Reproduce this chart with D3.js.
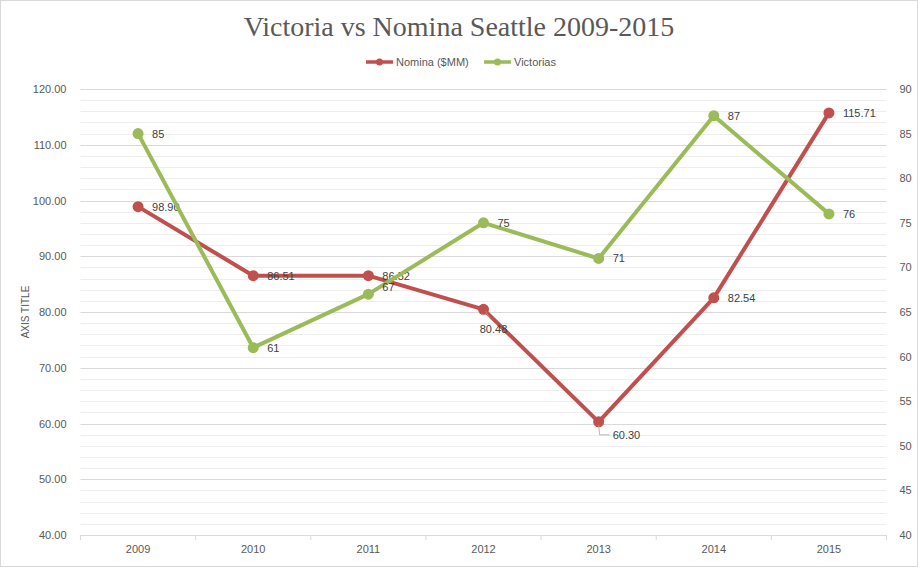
<!DOCTYPE html>
<html>
<head>
<meta charset="utf-8">
<script src="https://cdn.jsdelivr.net/npm/d3@7"></script>
<style>
  body { margin: 0; background: #fff; }
  svg { display: block; }
  text { font-family: "Liberation Sans", Arial, sans-serif; }
</style>
</head>
<body>
<svg id="chart" width="918" height="567"></svg>
<script>
var years = ["2009", "2010", "2011", "2012", "2013", "2014", "2015"];
var nomina = [98.90, 86.51, 86.52, 80.48, 60.30, 82.54, 115.71];
var victorias = [85, 61, 67, 75, 71, 87, 76];
var leftTicks = [40, 50, 60, 70, 80, 90, 100, 110, 120];
var rightTicks = [40, 45, 50, 55, 60, 65, 70, 75, 80, 85, 90];
// where each data label sits relative to its point
var nominaLabelPos = ["right", "right", "right", "below", "leader", "right", "right"];
var victoriasLabelPos = ["right", "right", "upright", "right", "right", "right", "right"];

var red = "#C0504D";
var green = "#9BBB59";
var textColor = "#595959";

var svg = d3.select("#chart");
var margin = { left: 80.5, right: 31.5, top: 89, bottom: 32 };
var width = 918, height = 567;

// outer frame
svg.append("rect")
  .attr("x", 0.5).attr("y", 0.5)
  .attr("width", width - 1).attr("height", height - 1)
  .attr("fill", "#fff").attr("stroke", "#d9d9d9");

var x = d3.scaleBand().domain(years).range([margin.left, width - margin.right]);
var yLeft = d3.scaleLinear().domain([40, 120]).range([height - margin.bottom, margin.top]);
var yRight = d3.scaleLinear().domain([40, 90]).range([height - margin.bottom, margin.top]);

// minor grid every 2 units, major every 10
var minor = d3.range(42, 120, 2).filter(function(v){ return v % 10 !== 0; });
svg.append("g").selectAll("line").data(minor).enter().append("line")
  .attr("x1", margin.left).attr("x2", width - margin.right)
  .attr("y1", function(d){ return Math.round(yLeft(d)) + 0.5; })
  .attr("y2", function(d){ return Math.round(yLeft(d)) + 0.5; })
  .attr("stroke", "#ededed");
svg.append("g").selectAll("line").data(leftTicks.slice(1)).enter().append("line")
  .attr("x1", margin.left).attr("x2", width - margin.right)
  .attr("y1", function(d){ return Math.round(yLeft(d)) + 0.5; })
  .attr("y2", function(d){ return Math.round(yLeft(d)) + 0.5; })
  .attr("stroke", "#d9d9d9");

// x axis
var xAxis = svg.append("g")
  .attr("transform", "translate(0," + (height - margin.bottom) + ")")
  .call(d3.axisBottom(x).tickSize(0).tickPadding(10));
xAxis.select(".domain").attr("stroke", "#d9d9d9");
xAxis.selectAll("text").attr("fill", textColor).style("font-size", "11px");
var bounds = years.map(function(d){ return x(d); }).concat([x.range()[1]]);
xAxis.selectAll("line.sep").data(bounds).enter().append("line")
  .attr("class", "sep")
  .attr("x1", function(d){ return d; }).attr("x2", function(d){ return d; })
  .attr("y1", 0).attr("y2", 5)
  .attr("stroke", "#d9d9d9");

// left axis
var leftAxis = svg.append("g")
  .attr("transform", "translate(" + (margin.left - 11) + ",0)")
  .call(d3.axisLeft(yLeft).tickValues(leftTicks).tickSize(0).tickFormat(d3.format(".2f")));
leftAxis.select(".domain").remove();
leftAxis.selectAll("text").attr("fill", textColor).style("font-size", "11px");

// right axis
var rightAxis = svg.append("g")
  .attr("transform", "translate(" + (width - margin.right + 10) + ",0)")
  .call(d3.axisRight(yRight).tickValues(rightTicks).tickSize(0));
rightAxis.select(".domain").remove();
rightAxis.selectAll("text").attr("fill", textColor).style("font-size", "11px");

// axis title
svg.append("text")
  .attr("transform", "translate(29," + ((margin.top + height - margin.bottom) / 2) + ") rotate(-90)")
  .attr("text-anchor", "middle")
  .attr("fill", textColor)
  .style("font-size", "10px")
  .text("AXIS TITLE");

// title
svg.append("text")
  .attr("x", 459).attr("y", 36)
  .attr("text-anchor", "middle")
  .attr("fill", textColor)
  .style("font-family", "'Liberation Serif', 'DejaVu Serif', serif")
  .style("font-size", "28px")
  .text("Victoria vs Nomina Seattle 2009-2015");

// legend
var legend = [
  { name: "Nomina ($MM)", color: red, x: 366 },
  { name: "Victorias", color: green, x: 484 }
];
var lg = svg.append("g").selectAll("g").data(legend).enter().append("g")
  .attr("transform", function(d){ return "translate(" + d.x + ",62)"; });
lg.append("line").attr("x1", 0).attr("x2", 27).attr("y1", 0).attr("y2", 0)
  .attr("stroke", function(d){ return d.color; }).attr("stroke-width", 3.5);
lg.append("circle").attr("cx", 13.5).attr("cy", 0).attr("r", 3.5)
  .attr("fill", function(d){ return d.color; });
lg.append("text").attr("x", 30).attr("y", 4)
  .attr("fill", textColor).style("font-size", "11px")
  .text(function(d){ return d.name; });

function cx(i){ return x(years[i]) + x.bandwidth() / 2; }

function drawSeries(values, scale, color, fmt, positions) {
  var line = d3.line()
    .x(function(d, i){ return cx(i); })
    .y(function(d){ return scale(d); });
  svg.append("path").datum(values)
    .attr("d", line)
    .attr("fill", "none")
    .attr("stroke", color)
    .attr("stroke-width", 4)
    .attr("stroke-linejoin", "round");
  svg.append("g").selectAll("circle").data(values).enter().append("circle")
    .attr("cx", function(d, i){ return cx(i); })
    .attr("cy", function(d){ return scale(d); })
    .attr("r", 5.5)
    .attr("fill", color);
  var g = svg.append("g");
  values.forEach(function(v, i){
    var px = cx(i), py = scale(v);
    var pos = positions[i];
    var t = g.append("text").attr("fill", "#404040").style("font-size", "11px").text(fmt(v));
    if (pos === "right") {
      t.attr("x", px + 14).attr("y", py + 4);
    } else if (pos === "below") {
      t.attr("x", px + 10).attr("y", py + 24).attr("text-anchor", "middle");
      g.append("line").attr("x1", px + 2).attr("y1", py + 2).attr("x2", px + 7).attr("y2", py + 10)
        .attr("stroke", "#a6a6a6").attr("stroke-width", 0.8);
    } else if (pos === "leader") {
      t.attr("x", px + 14).attr("y", py + 17);
      g.append("polyline")
        .attr("points", [[px, py + 3], [px + 1, py + 13], [px + 11, py + 13]].join(" "))
        .attr("fill", "none").attr("stroke", "#a6a6a6").attr("stroke-width", 0.8);
    } else if (pos === "upright") {
      t.attr("x", px + 14).attr("y", py - 3);
      g.append("line").attr("x1", px + 2).attr("y1", py - 2).attr("x2", px + 10).attr("y2", py - 6)
        .attr("stroke", "#a6a6a6").attr("stroke-width", 0.8);
    }
  });
}

drawSeries(nomina, yLeft, red, d3.format(".2f"), nominaLabelPos);
drawSeries(victorias, yRight, green, d3.format("d"), victoriasLabelPos);
</script>
</body>
</html>
